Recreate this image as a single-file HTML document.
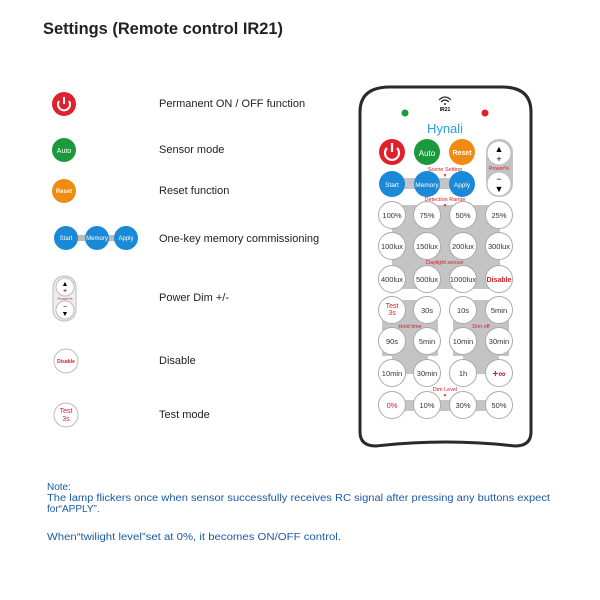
<!DOCTYPE html>
<html><head><meta charset="utf-8"><style>
html,body{margin:0;padding:0;background:#fff;width:600px;height:600px;overflow:hidden}
svg{display:block}
text{font-family:"Liberation Sans",sans-serif}
</style></head><body>
<svg width="600" height="600" viewBox="0 0 600 600" xmlns="http://www.w3.org/2000/svg">
<text x="43" y="34" font-size="17" font-weight="bold" fill="#222" textLength="240" lengthAdjust="spacingAndGlyphs">Settings (Remote control IR21)</text>

<!-- left labels -->
<g font-size="11" fill="#222">
<text x="159" y="107">Permanent ON / OFF function</text>
<text x="159" y="153">Sensor mode</text>
<text x="159" y="194">Reset function</text>
<text x="159" y="242">One-key memory commissioning</text>
<text x="159" y="301">Power Dim +/-</text>
<text x="159" y="364">Disable</text>
<text x="159" y="418">Test mode</text>
</g>

<!-- left icons -->
<circle cx="64" cy="104" r="12" fill="#e0202a"/>
<path d="M59 101 A6 6 0 1 0 69 101" fill="none" stroke="#fff" stroke-width="2"/>
<line x1="64" y1="97" x2="64" y2="104" stroke="#fff" stroke-width="2"/>
<circle cx="64" cy="150" r="12" fill="#1a9a3c"/>
<text x="64" y="153" font-size="7" fill="#fff" text-anchor="middle">Auto</text>
<circle cx="64" cy="191" r="12" fill="#f08a10"/>
<text x="64" y="193" font-size="6" fill="#fff" text-anchor="middle" font-weight="bold">Reset</text>
<rect x="64" y="235" width="62" height="6" fill="#bbb"/>
<circle cx="66" cy="238" r="12" fill="#1a8ad8"/>
<circle cx="97" cy="238" r="12" fill="#1a8ad8"/>
<circle cx="126" cy="238" r="12" fill="#1a8ad8"/>
<g font-size="6" fill="#fff" text-anchor="middle"><text x="66" y="240">Start</text><text x="97" y="240">Memory</text><text x="126" y="240">Apply</text></g>
<rect x="53" y="276" width="23" height="45" rx="11" fill="#eee" stroke="#bbb"/>
<circle cx="65" cy="287" r="9" fill="#fff" stroke="#bbb"/>
<circle cx="65" cy="310" r="9" fill="#fff" stroke="#bbb"/>
<text x="65" y="286" font-size="7" text-anchor="middle">▲</text><text x="65" y="293" font-size="7" text-anchor="middle">+</text>
<text x="65" y="309" font-size="7" text-anchor="middle">−</text><text x="65" y="316" font-size="7" text-anchor="middle">▼</text>
<text x="65" y="300" font-size="4" fill="#c03040" text-anchor="middle">Power%</text>
<circle cx="66" cy="361" r="12" fill="#fff" stroke="#bbb"/>
<text x="66" y="363" font-size="5" fill="#d0202a" text-anchor="middle" font-weight="bold">Disable</text>
<circle cx="66" cy="415" r="12" fill="#fff" stroke="#bbb"/>
<text x="66" y="413" font-size="7" fill="#d0202a" text-anchor="middle">Test</text>
<text x="66" y="421" font-size="7" fill="#d0202a" text-anchor="middle">3s</text>

<!-- remote body -->
<path d="M360 112 Q360 87 390 87 L502 87 Q531 87 531 112 L531 432 Q531 446 515 446 Q446 438 376 446 Q360 446 360 432 Z" fill="#fff" stroke="#2a2a2a" stroke-width="3"/>
<circle cx="405" cy="113" r="3.5" fill="#1a9a3c"/>
<circle cx="485" cy="113" r="3.5" fill="#e0202a"/>
<path d="M439 100 Q445 94 451 100 M441 102 Q445 98 449 102" fill="none" stroke="#222" stroke-width="1.2"/>
<circle cx="445" cy="104" r="1" fill="#222"/>
<text x="445" y="111" font-size="5" text-anchor="middle" font-weight="bold">IR21</text>
<text x="445" y="133" font-size="13" fill="#2aa0dc" text-anchor="middle">Hynali</text>

<!-- gray backgrounds -->
<g fill="#c4c4c4">
<rect x="486" y="139" width="27" height="58" rx="13"/>
<rect x="392" y="178" width="72" height="11"/>
<rect x="392" y="205" width="108" height="84"/>
<rect x="392" y="300" width="36" height="74"/>
<rect x="382" y="320" width="56" height="36"/>
<rect x="463" y="300" width="36" height="74"/>
<rect x="453" y="320" width="56" height="36"/>
<rect x="392" y="400" width="108" height="11"/>
</g>
<g font-size="5.5" fill="#d0202a" text-anchor="middle">
<text x="445" y="171">Scene Setting</text><text x="445" y="177">▾</text>
<text x="499" y="170">Power%</text>
<text x="445" y="201">Detection Range</text><text x="445" y="207">▾</text>
<text x="445" y="264">Daylight sensor</text>
<text x="410" y="328">Hold time</text>
<text x="481" y="328">Dim off</text>
<text x="445" y="391">Dim Level</text><text x="445" y="397">▾</text>
</g>

<!-- top buttons -->
<circle cx="392" cy="152" r="13" fill="#e0202a"/>
<path d="M387 148 A7 7 0 1 0 397 148" fill="none" stroke="#fff" stroke-width="2.2"/>
<line x1="392" y1="143" x2="392" y2="152" stroke="#fff" stroke-width="2.2"/>
<circle cx="427" cy="152" r="13" fill="#1a9a3c"/>
<text x="427" y="156" font-size="8" fill="#fff" text-anchor="middle">Auto</text>
<circle cx="462" cy="152" r="13" fill="#f08a10"/>
<text x="462" y="155" font-size="7" fill="#fff" text-anchor="middle" font-weight="bold">Reset</text>
<circle cx="499" cy="153" r="12" fill="#fff" stroke="#bbb"/>
<circle cx="499" cy="184" r="12" fill="#fff" stroke="#bbb"/>
<text x="499" y="152" font-size="9" text-anchor="middle">▲</text><text x="499" y="162" font-size="9" text-anchor="middle">+</text>
<text x="499" y="182" font-size="9" text-anchor="middle">−</text><text x="499" y="192" font-size="9" text-anchor="middle">▼</text>
<circle cx="392" cy="184" r="13" fill="#1a8ad8"/>
<circle cx="427" cy="184" r="13" fill="#1a8ad8"/>
<circle cx="462" cy="184" r="13" fill="#1a8ad8"/>
<g font-size="6.5" fill="#fff" text-anchor="middle"><text x="392" y="187">Start</text><text x="427" y="187">Memory</text><text x="462" y="187">Apply</text></g>

<!-- white buttons -->
<g fill="#fff" stroke="#aaa" stroke-width="1">
<circle cx="392" cy="215" r="13.5"/><circle cx="427" cy="215" r="13.5"/><circle cx="463" cy="215" r="13.5"/><circle cx="499" cy="215" r="13.5"/>
<circle cx="392" cy="246" r="13.5"/><circle cx="427" cy="246" r="13.5"/><circle cx="463" cy="246" r="13.5"/><circle cx="499" cy="246" r="13.5"/>
<circle cx="392" cy="279" r="13.5"/><circle cx="427" cy="279" r="13.5"/><circle cx="463" cy="279" r="13.5"/><circle cx="499" cy="279" r="13.5"/>
<circle cx="392" cy="310" r="13.5"/><circle cx="427" cy="310" r="13.5"/><circle cx="463" cy="310" r="13.5"/><circle cx="499" cy="310" r="13.5"/>
<circle cx="392" cy="341" r="13.5"/><circle cx="427" cy="341" r="13.5"/><circle cx="463" cy="341" r="13.5"/><circle cx="499" cy="341" r="13.5"/>
<circle cx="392" cy="373" r="13.5"/><circle cx="427" cy="373" r="13.5"/><circle cx="463" cy="373" r="13.5"/><circle cx="499" cy="373" r="13.5"/>
<circle cx="392" cy="405" r="13.5"/><circle cx="427" cy="405" r="13.5"/><circle cx="463" cy="405" r="13.5"/><circle cx="499" cy="405" r="13.5"/>
</g>
<g font-size="7.5" fill="#333" text-anchor="middle">
<text x="392" y="218">100%</text><text x="427" y="218">75%</text><text x="463" y="218">50%</text><text x="499" y="218">25%</text>
<text x="392" y="249">100lux</text><text x="427" y="249">150lux</text><text x="463" y="249">200lux</text><text x="499" y="249">300lux</text>
<text x="392" y="282">400lux</text><text x="427" y="282">500lux</text><text x="463" y="282">1000lux</text>
<text x="427" y="313">30s</text><text x="463" y="313">10s</text><text x="499" y="313">5min</text>
<text x="392" y="344">90s</text><text x="427" y="344">5min</text><text x="463" y="344">10min</text><text x="499" y="344">30min</text>
<text x="392" y="376">10min</text><text x="427" y="376">30min</text><text x="463" y="376">1h</text>
<text x="427" y="408">10%</text><text x="463" y="408">30%</text><text x="499" y="408">50%</text>
</g>
<g fill="#d0202a" text-anchor="middle">
<text x="499" y="282" font-size="7" font-weight="bold">Disable</text>
<text x="392" y="308" font-size="7">Test</text><text x="392" y="315" font-size="7">3s</text>
<text x="499" y="377" font-size="10" font-weight="bold">+∞</text>
<text x="392" y="408" font-size="7.5">0%</text>
</g>

<!-- notes -->
<g font-size="10" fill="#1a5aa8">
<text x="47" y="490">Note:</text>
<text x="47" y="501" textLength="503" lengthAdjust="spacingAndGlyphs">The lamp flickers once when sensor successfully receives RC signal after pressing any buttons expect</text>
<text x="47" y="512">for“APPLY”.</text>
<text x="47" y="540" textLength="294" lengthAdjust="spacingAndGlyphs">When“twilight level”set at 0%, it becomes ON/OFF control.</text>
</g>
</svg>
</body></html>
